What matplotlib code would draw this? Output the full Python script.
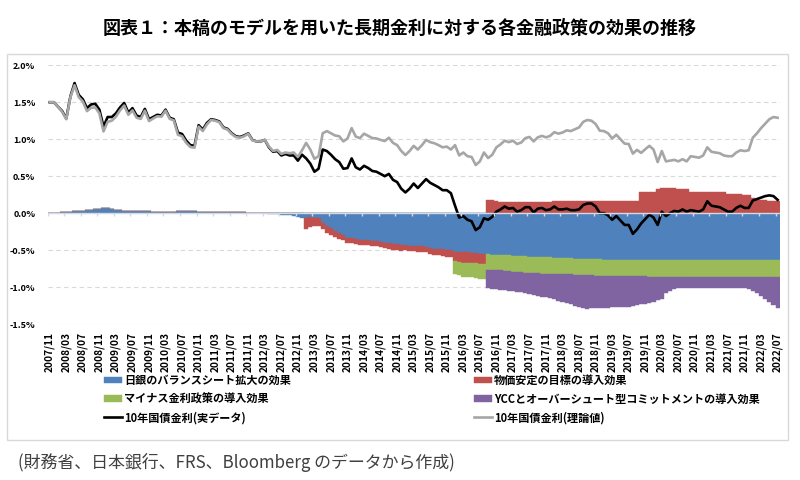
import numpy as np
import pandas as pd
import matplotlib
matplotlib.use("Agg")
import matplotlib.pyplot as plt
from matplotlib.patches import Rectangle

plt.rcParams['font.family'] = ['Noto Sans CJK JP', 'DejaVu Sans']

title = "図表１：本稿のモデルを用いた長期金利に対する各金融政策の効果の推移"
source = "(財務省、日本銀行、FRS、Bloomberg のデータから作成)"

# monthly, 2007/11 .. 2022/07
months = pd.period_range("2007-11", "2022-07", freq="M").strftime("%Y/%m")

# 10年国債金利(実データ), %
jgb_actual = [
    1.50, 1.50,
    1.44, 1.38, 1.28, 1.58, 1.76, 1.60, 1.54, 1.42, 1.47, 1.48, 1.40, 1.17,
    1.30, 1.30, 1.35, 1.43, 1.49, 1.36, 1.42, 1.32, 1.30, 1.41, 1.27, 1.30,
    1.33, 1.32, 1.40, 1.29, 1.27, 1.09, 1.07, 0.98, 0.92, 0.91, 1.19, 1.13,
    1.22, 1.27, 1.26, 1.24, 1.16, 1.14, 1.08, 1.04, 1.03, 1.05, 1.08, 0.99,
    0.97, 0.97, 0.99, 0.89, 0.83, 0.84, 0.78, 0.80, 0.78, 0.78, 0.71, 0.79,
    0.74, 0.67, 0.56, 0.60, 0.86, 0.84, 0.79, 0.73, 0.69, 0.60, 0.61, 0.74,
    0.62, 0.59, 0.64, 0.61, 0.57, 0.56, 0.53, 0.50, 0.53, 0.45, 0.42, 0.33,
    0.28, 0.33, 0.40, 0.34, 0.40, 0.46, 0.41, 0.38, 0.35, 0.31, 0.31, 0.27,
    0.10, -0.06, -0.04, -0.09, -0.11, -0.23, -0.19, -0.07, -0.09, -0.05, 0.02, 0.05,
    0.09, 0.06, 0.07, 0.02, 0.04, 0.08, 0.08, 0.01, 0.06, 0.07, 0.04, 0.05,
    0.09, 0.05, 0.05, 0.06, 0.04, 0.04, 0.05, 0.11, 0.13, 0.13, 0.09, 0.00,
    0.00, -0.03, -0.09, -0.04, -0.10, -0.16, -0.16, -0.28, -0.22, -0.14, -0.08, -0.02,
    -0.06, -0.16, 0.02, -0.04, 0.00, 0.03, 0.02, 0.05, 0.02, 0.04, 0.03, 0.02,
    0.05, 0.16, 0.10, 0.09, 0.08, 0.05, 0.02, 0.02, 0.07, 0.10, 0.07, 0.07,
    0.17, 0.19, 0.21, 0.23, 0.24, 0.23, 0.18,
]

# 10年国債金利(理論値), %
jgb_theory = [
    1.50, 1.50,
    1.44, 1.37, 1.27, 1.57, 1.73, 1.57, 1.51, 1.38, 1.425, 1.43, 1.35, 1.105,
    1.235, 1.25, 1.305, 1.39, 1.455, 1.33, 1.39, 1.29, 1.275, 1.385, 1.245, 1.28,
    1.31, 1.305, 1.385, 1.275, 1.255, 1.06, 1.04, 0.95, 0.895, 0.885, 1.17, 1.11,
    1.20, 1.26, 1.25, 1.23, 1.15, 1.13, 1.07, 1.03, 1.02, 1.04, 1.075, 0.985,
    0.97, 0.97, 0.99, 0.90, 0.84, 0.855, 0.80, 0.82, 0.81, 0.82, 0.76, 0.85,
    0.95, 0.86, 0.735, 0.77, 1.08, 1.11, 1.08, 1.05, 1.04, 0.97, 1.01, 1.15,
    1.035, 1.015, 1.075, 1.045, 1.015, 1.01, 0.99, 0.975, 1.02, 0.95, 0.92, 0.84,
    0.785, 0.84, 0.91, 0.86, 0.92, 0.99, 0.96, 0.945, 0.92, 0.89, 0.90, 0.86,
    0.92, 0.78, 0.82, 0.77, 0.76, 0.65, 0.70, 0.82, 0.745, 0.79, 0.89, 0.93,
    0.98, 0.96, 0.98, 0.935, 0.955, 1.015, 1.03, 0.97, 1.025, 1.045, 1.025, 1.045,
    1.095, 1.075, 1.09, 1.12, 1.11, 1.135, 1.16, 1.235, 1.26, 1.25, 1.205, 1.115,
    1.11, 1.08, 1.01, 1.06, 1.00, 0.94, 0.935, 0.805, 0.855, 0.815, 0.865, 0.91,
    0.86, 0.69, 0.84, 0.70, 0.71, 0.72, 0.70, 0.73, 0.70, 0.77, 0.76, 0.75,
    0.78, 0.89, 0.83, 0.82, 0.81, 0.78, 0.77, 0.77, 0.82, 0.85, 0.84, 0.85,
    1.02, 1.08, 1.15, 1.21, 1.27, 1.30, 1.29,
]

# 日銀のバランスシート拡大の効果
eff_bs = [
    0.0, 0.0,
    0.0, 0.01, 0.01, 0.01, 0.03, 0.03, 0.03, 0.04, 0.045, 0.05, 0.05, 0.065,
    0.065, 0.05, 0.045, 0.04, 0.035, 0.03, 0.03, 0.03, 0.025, 0.025, 0.025, 0.02,
    0.02, 0.015, 0.015, 0.015, 0.015, 0.03, 0.03, 0.03, 0.025, 0.025, 0.02, 0.02,
    0.02, 0.01, 0.01, 0.01, 0.01, 0.01, 0.01, 0.01, 0.01, 0.01, 0.005, 0.005,
    0.0, 0.0, 0.0, -0.01, -0.01, -0.015, -0.02, -0.02, -0.03, -0.04, -0.05, -0.06,
    -0.065, -0.055, -0.065, -0.07, -0.13, -0.18, -0.20, -0.24, -0.27, -0.29, -0.33, -0.34,
    -0.35, -0.36, -0.37, -0.37, -0.38, -0.38, -0.39, -0.40, -0.41, -0.42, -0.42, -0.43,
    -0.43, -0.44, -0.44, -0.45, -0.45, -0.46, -0.47, -0.48, -0.48, -0.49, -0.50, -0.50,
    -0.52, -0.52, -0.53, -0.53, -0.54, -0.54, -0.55, -0.55, -0.555, -0.56, -0.56, -0.565,
    -0.57, -0.57, -0.575, -0.58, -0.58, -0.585, -0.59, -0.59, -0.595, -0.60, -0.60, -0.60,
    -0.605, -0.605, -0.61, -0.61, -0.61, -0.615, -0.615, -0.62, -0.62, -0.62, -0.625, -0.625,
    -0.63, -0.63, -0.63, -0.63, -0.63, -0.63, -0.635, -0.635, -0.635, -0.635, -0.635, -0.64,
    -0.64, -0.64, -0.64, -0.64, -0.64, -0.64, -0.64, -0.64, -0.64, -0.64, -0.64, -0.64,
    -0.64, -0.64, -0.64, -0.64, -0.64, -0.64, -0.64, -0.64, -0.64, -0.64, -0.64, -0.64,
    -0.64, -0.64, -0.64, -0.64, -0.64, -0.64, -0.64,
]

# 物価安定の目標の導入効果 (from 2013/01)
eff_target = [
    0.0, 0.0,
    0.0, 0.0, 0.0, 0.0, 0.0, 0.0, 0.0, 0.0, 0.0, 0.0, 0.0, 0.0,
    0.0, 0.0, 0.0, 0.0, 0.0, 0.0, 0.0, 0.0, 0.0, 0.0, 0.0, 0.0,
    0.0, 0.0, 0.0, 0.0, 0.0, 0.0, 0.0, 0.0, 0.0, 0.0, 0.0, 0.0,
    0.0, 0.0, 0.0, 0.0, 0.0, 0.0, 0.0, 0.0, 0.0, 0.0, 0.0, 0.0,
    0.0, 0.0, 0.0, 0.0, 0.0, 0.0, 0.0, 0.0, 0.0, 0.0, 0.0, 0.0,
    -0.145, -0.135, -0.11, -0.10, -0.09, -0.09, -0.09, -0.08, -0.08, -0.08, -0.07, -0.07,
    -0.065, -0.065, -0.065, -0.065, -0.065, -0.07, -0.07, -0.075, -0.08, -0.08, -0.08, -0.08,
    -0.075, -0.07, -0.07, -0.07, -0.07, -0.07, -0.08, -0.085, -0.09, -0.09, -0.09, -0.09,
    -0.13, -0.14, -0.14, -0.14, -0.14, -0.14, -0.14, -0.14, 0.18, 0.18, 0.16, 0.155,
    0.15, 0.15, 0.15, 0.15, 0.15, 0.15, 0.15, 0.15, 0.15, 0.155, 0.155, 0.155,
    0.16, 0.16, 0.16, 0.16, 0.16, 0.16, 0.165, 0.165, 0.17, 0.17, 0.17, 0.17,
    0.17, 0.17, 0.17, 0.17, 0.17, 0.17, 0.17, 0.17, 0.17, 0.28, 0.28, 0.28,
    0.28, 0.33, 0.34, 0.34, 0.34, 0.34, 0.33, 0.33, 0.33, 0.28, 0.28, 0.28,
    0.28, 0.28, 0.28, 0.28, 0.28, 0.28, 0.26, 0.26, 0.26, 0.26, 0.24, 0.24,
    0.20, 0.19, 0.18, 0.18, 0.17, 0.17, 0.17,
]

# マイナス金利政策の導入効果 (from 2016/01)
eff_negative = [
    0.0, 0.0,
    0.0, 0.0, 0.0, 0.0, 0.0, 0.0, 0.0, 0.0, 0.0, 0.0, 0.0, 0.0,
    0.0, 0.0, 0.0, 0.0, 0.0, 0.0, 0.0, 0.0, 0.0, 0.0, 0.0, 0.0,
    0.0, 0.0, 0.0, 0.0, 0.0, 0.0, 0.0, 0.0, 0.0, 0.0, 0.0, 0.0,
    0.0, 0.0, 0.0, 0.0, 0.0, 0.0, 0.0, 0.0, 0.0, 0.0, 0.0, 0.0,
    0.0, 0.0, 0.0, 0.0, 0.0, 0.0, 0.0, 0.0, 0.0, 0.0, 0.0, 0.0,
    0.0, 0.0, 0.0, 0.0, 0.0, 0.0, 0.0, 0.0, 0.0, 0.0, 0.0, 0.0,
    0.0, 0.0, 0.0, 0.0, 0.0, 0.0, 0.0, 0.0, 0.0, 0.0, 0.0, 0.0,
    0.0, 0.0, 0.0, 0.0, 0.0, 0.0, 0.0, 0.0, 0.0, 0.0, 0.0, 0.0,
    -0.17, -0.18, -0.19, -0.19, -0.19, -0.20, -0.20, -0.20, -0.21, -0.21, -0.21, -0.21,
    -0.21, -0.21, -0.215, -0.215, -0.215, -0.22, -0.22, -0.22, -0.22, -0.22, -0.22, -0.22,
    -0.22, -0.22, -0.22, -0.22, -0.22, -0.22, -0.22, -0.22, -0.22, -0.22, -0.22, -0.22,
    -0.22, -0.22, -0.22, -0.22, -0.22, -0.22, -0.22, -0.22, -0.22, -0.22, -0.22, -0.22,
    -0.22, -0.22, -0.22, -0.22, -0.22, -0.22, -0.22, -0.22, -0.22, -0.22, -0.22, -0.22,
    -0.22, -0.22, -0.22, -0.22, -0.22, -0.22, -0.22, -0.22, -0.22, -0.22, -0.22, -0.22,
    -0.22, -0.22, -0.22, -0.22, -0.22, -0.22, -0.22,
]

# YCCとオーバーシュート型コミットメントの導入効果 (from 2016/09)
eff_ycc = [
    0.0, 0.0,
    0.0, 0.0, 0.0, 0.0, 0.0, 0.0, 0.0, 0.0, 0.0, 0.0, 0.0, 0.0,
    0.0, 0.0, 0.0, 0.0, 0.0, 0.0, 0.0, 0.0, 0.0, 0.0, 0.0, 0.0,
    0.0, 0.0, 0.0, 0.0, 0.0, 0.0, 0.0, 0.0, 0.0, 0.0, 0.0, 0.0,
    0.0, 0.0, 0.0, 0.0, 0.0, 0.0, 0.0, 0.0, 0.0, 0.0, 0.0, 0.0,
    0.0, 0.0, 0.0, 0.0, 0.0, 0.0, 0.0, 0.0, 0.0, 0.0, 0.0, 0.0,
    0.0, 0.0, 0.0, 0.0, 0.0, 0.0, 0.0, 0.0, 0.0, 0.0, 0.0, 0.0,
    0.0, 0.0, 0.0, 0.0, 0.0, 0.0, 0.0, 0.0, 0.0, 0.0, 0.0, 0.0,
    0.0, 0.0, 0.0, 0.0, 0.0, 0.0, 0.0, 0.0, 0.0, 0.0, 0.0, 0.0,
    0.0, 0.0, 0.0, 0.0, 0.0, 0.0, 0.0, 0.0, -0.25, -0.25, -0.26, -0.26,
    -0.26, -0.27, -0.27, -0.27, -0.27, -0.28, -0.29, -0.30, -0.30, -0.31, -0.32, -0.33,
    -0.34, -0.36, -0.37, -0.39, -0.40, -0.42, -0.44, -0.45, -0.46, -0.45, -0.44, -0.44,
    -0.43, -0.43, -0.42, -0.42, -0.42, -0.42, -0.41, -0.40, -0.39, -0.38, -0.37, -0.35,
    -0.34, -0.32, -0.30, -0.22, -0.19, -0.17, -0.15, -0.15, -0.15, -0.15, -0.15, -0.15,
    -0.15, -0.15, -0.15, -0.15, -0.15, -0.15, -0.15, -0.15, -0.15, -0.15, -0.15, -0.16,
    -0.19, -0.22, -0.26, -0.30, -0.34, -0.38, -0.42,
]

bar_series = [
    ("日銀のバランスシート拡大の効果", eff_bs, "#4F81BD"),
    ("物価安定の目標の導入効果", eff_target, "#C0504D"),
    ("マイナス金利政策の導入効果", eff_negative, "#9BBB59"),
    ("YCCとオーバーシュート型コミットメントの導入効果", eff_ycc, "#8064A2"),
]

n = len(months)
for _, s, _ in bar_series:
    assert len(s) == n
assert len(jgb_actual) == n and len(jgb_theory) == n

fig = plt.figure(figsize=(8, 4.8), dpi=100)
ax = fig.add_axes([0.0596, 0.325, 0.915, 0.539])

x = np.arange(n)
pos_base = np.zeros(n)
neg_base = np.zeros(n)
handles = {}
for label, vals, color in bar_series:
    v = np.array(vals)
    bottom = np.where(v >= 0, pos_base, neg_base)
    bc = ax.bar(x, v, bottom=bottom, width=1.0, color=color,
                edgecolor=color, linewidth=0.3, zorder=2)
    handles[label] = bc
    pos_base = pos_base + np.where(v > 0, v, 0)
    neg_base = neg_base + np.where(v < 0, v, 0)

l_act, = ax.plot(x, jgb_actual, color="black", lw=1.9, zorder=4,
                 label="10年国債金利(実データ)")
l_th, = ax.plot(x, jgb_theory, color="#A6A6A6", lw=1.9, zorder=5,
                label="10年国債金利(理論値)")

# category axis at zero
ax.axhline(0, color="#D3DAE3", lw=1.0, zorder=6)
tick_pos = np.arange(0, n, 4) - 0.5
ax.vlines(tick_pos, -0.045, 0, color="#D3DAE3", lw=1.0, zorder=6)

ax.set_xlim(-0.5, n - 0.5)
ax.set_ylim(-1.5, 2.0)
ax.set_yticks(np.arange(-1.5, 2.01, 0.5))
ax.set_yticklabels([f"{v:.1f}%" for v in np.arange(-1.5, 2.01, 0.5)],
                   fontsize=6.5, fontweight="bold")
ax.grid(axis="y", color="#D9D9D9", lw=0.8, linestyle=(0, (4, 3)), zorder=0)
ax.set_axisbelow(True)

ax.set_xticks(x[::4])
ax.set_xticklabels(months[::4], rotation=90, fontsize=7.3, fontweight="bold")
ax.tick_params(axis="both", length=0)
ax.tick_params(axis="x", pad=6)
ax.tick_params(axis="y", pad=9)
for sp in ax.spines.values():
    sp.set_visible(False)

order = [
    handles["日銀のバランスシート拡大の効果"],
    handles["マイナス金利政策の導入効果"],
    l_act,
    handles["物価安定の目標の導入効果"],
    handles["YCCとオーバーシュート型コミットメントの導入効果"],
    l_th,
]
labels = [
    "日銀のバランスシート拡大の効果",
    "マイナス金利政策の導入効果",
    "10年国債金利(実データ)",
    "物価安定の目標の導入効果",
    "YCCとオーバーシュート型コミットメントの導入効果",
    "10年国債金利(理論値)",
]
fig.legend(order, labels, loc="upper left", bbox_to_anchor=(104 / 800, 1 - 374 / 480),
           ncol=2, frameon=False, prop={"size": 8, "weight": "bold"},
           handlelength=1.6, handleheight=0.55, handletextpad=0.2,
           columnspacing=16.5, labelspacing=0.5, borderpad=0, borderaxespad=0)

fig.add_artist(Rectangle((7 / 800, 1 - 440 / 480), 781 / 800, 386 / 480,
                         transform=fig.transFigure, fill=False,
                         edgecolor="#D9D9D9", lw=1))

fig.text(0.5, 1 - 28 / 480, title, ha="center", va="center",
         fontsize=13, fontweight="bold")
fig.text(18 / 800, 1 - 462 / 480, source, ha="left", va="center",
         fontsize=12.2, color="#404040")

fig.savefig("out.png", dpi=100)
